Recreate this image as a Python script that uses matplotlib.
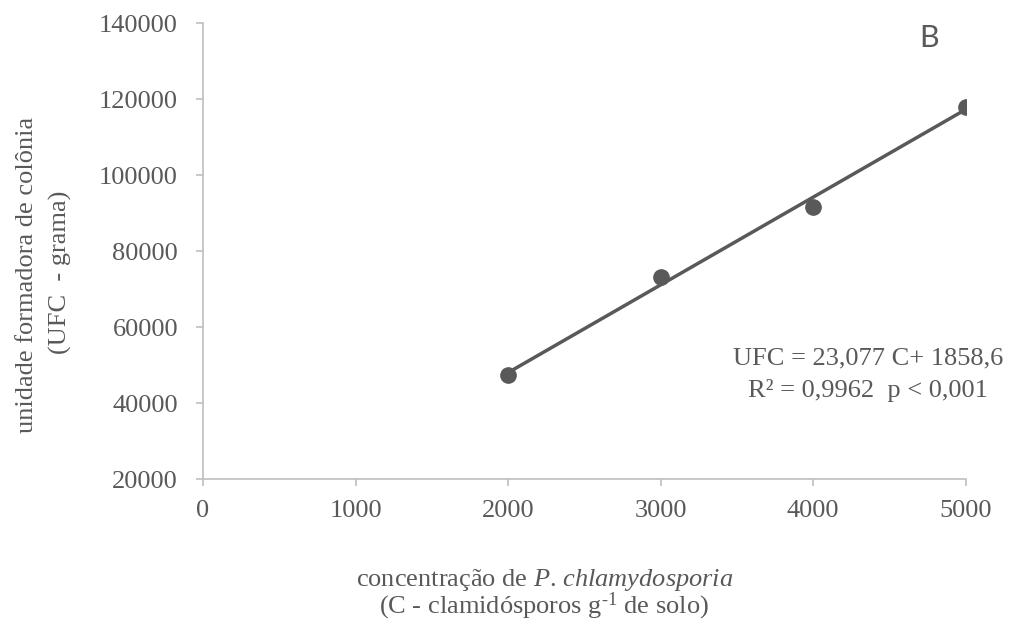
import matplotlib
matplotlib.use("Agg")
import matplotlib.pyplot as plt
import numpy as np

# Data
conc = [2000, 3000, 4000, 5000]
ufc = [47400, 73100, 91700, 117900]
slope = 23.077
intercept = 1858.6
x_ticks = [0, 1000, 2000, 3000, 4000, 5000]
y_ticks = [20000, 40000, 60000, 80000, 100000, 120000, 140000]

plt.rcParams['font.family'] = ['Liberation Serif', 'DejaVu Serif']
plt.rcParams['mathtext.fontset'] = 'custom'
plt.rcParams['mathtext.rm'] = 'Liberation Serif'
plt.rcParams['mathtext.it'] = 'Liberation Serif:italic'

TXT = '#595959'
AX = '#bfbfbf'
FS = 19

fig = plt.figure(figsize=(10.10, 6.23), dpi=100)
ax = fig.add_axes([0.201, 0.231, 0.755, 0.732])

fit_x = np.array([conc[0], conc[-1]])
ax.plot(fit_x, slope * fit_x + intercept, color=TXT, lw=2.5, solid_capstyle='butt', zorder=2)
ax.plot(conc, ufc, 'o', color=TXT, ms=11, zorder=3)

ax.set_xlim(0, 5000)
ax.set_ylim(20000, 140000)
ax.set_xticks(x_ticks)
ax.set_yticks(y_ticks)
ax.tick_params(colors=AX, labelcolor=TXT, labelsize=FS, length=5, width=1.2, direction='out')
ax.tick_params(axis='x', pad=10)
ax.tick_params(axis='y', pad=13)
for s in ['top', 'right']:
    ax.spines[s].set_visible(False)
for s in ['left', 'bottom']:
    ax.spines[s].set_color(AX)
    ax.spines[s].set_linewidth(1.2)

ax.text(4358, 51800, 'UFC = 23,077 C+ 1858,6', color=TXT, fontsize=FS, ha='center', va='center')
ax.text(4358, 43400, 'R² = 0,9962  p < 0,001', color=TXT, fontsize=FS, ha='center', va='center')
fig.text(0.920, 0.939, 'B', color=TXT, fontsize=22, family=['Lato', 'DejaVu Sans'], ha='center', va='center')

fig.text(0.027, 0.559, 'unidade formadora de colônia', rotation=90, color=TXT, fontsize=FS, ha='center', va='center')
fig.text(0.060, 0.563, '(UFC  - grama)', rotation=90, color=TXT, fontsize=FS, ha='center', va='center')

fig.text(0.539, 0.069, r'concentração de $\mathit{P}$. $\mathit{chlamydosporia}$', color=TXT, fontsize=FS, ha='center', va='center')
fig.text(0.539, 0.026, r'(C - clamidósporos g$^{\text{-1}}$ de solo)', color=TXT, fontsize=FS, ha='center', va='center')

fig.savefig('out.png', dpi=100)
